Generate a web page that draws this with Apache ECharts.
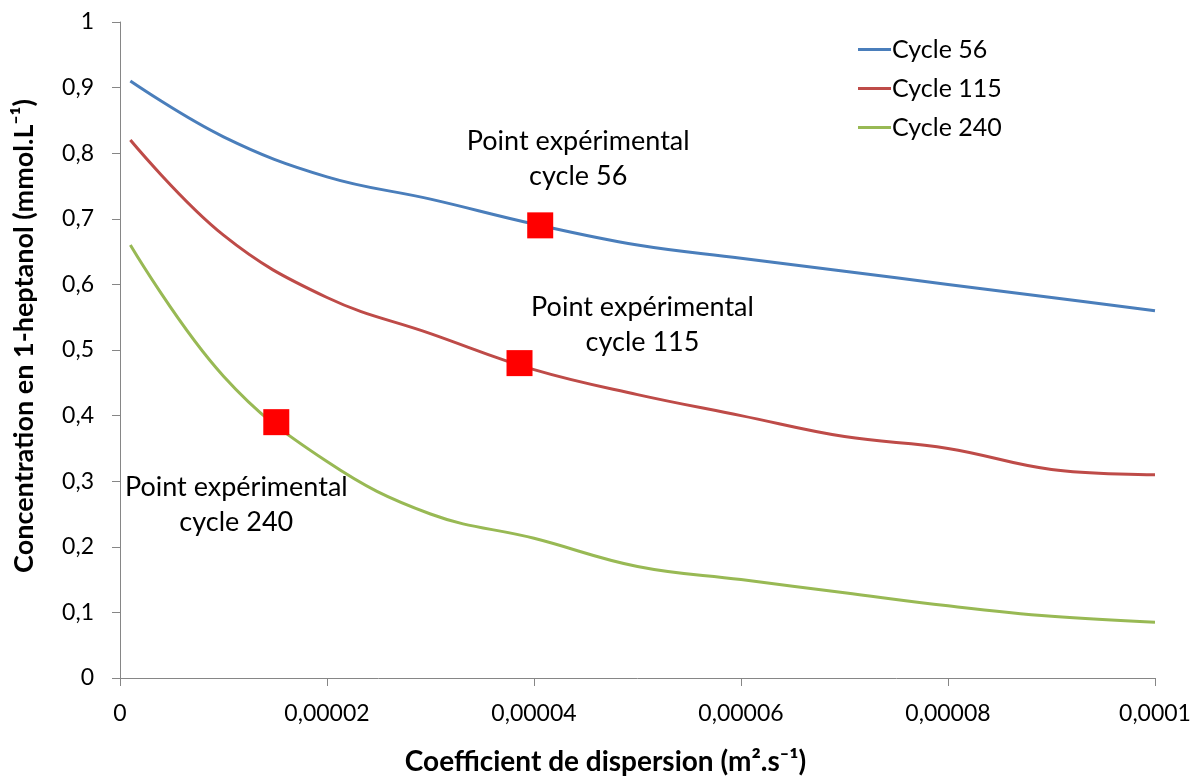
<!DOCTYPE html>
<html><head><meta charset="utf-8">
<script src="https://cdn.jsdelivr.net/npm/echarts@6/dist/echarts.min.js"></script>
<style>html,body{margin:0;padding:0;background:#fff}#c{width:1198px;height:777px}</style>
</head><body><div id="c"></div>
<script>
const xValues = [0.000001, 0.00001, 0.00002, 0.00003, 0.00004, 0.00005, 0.00006, 0.00007, 0.00008, 0.00009, 0.0001];
const cycle56 = [0.91, 0.825, 0.764, 0.73, 0.692, 0.66, 0.64, 0.62, 0.60, 0.58, 0.56];
const cycle115 = [0.82, 0.675, 0.58, 0.525, 0.47, 0.432, 0.40, 0.368, 0.35, 0.318, 0.31];
const cycle240 = [0.66, 0.46, 0.33, 0.25, 0.213, 0.17, 0.15, 0.13, 0.11, 0.094, 0.085];
const seriesNames = ['Cycle 56', 'Cycle 115', 'Cycle 240'];
const expX = [0.0000406, 0.0000386, 0.0000151];
const expY = [0.69, 0.48, 0.39];
const expLabels = ['Point expérimental\ncycle 56', 'Point expérimental\ncycle 115', 'Point expérimental\ncycle 240'];

const FONT = 'Lato';
const chart = echarts.init(document.getElementById('c'));
const pair = (xs, ys) => xs.map((x, i) => [x, ys[i]]);
const fmt = v => String(v).replace('.', ',');
const lineSeries = (name, ys, color) => ({
  name, type: 'line', data: pair(xValues, ys), smooth: 0.4, symbol: 'none',
  lineStyle: { color, width: 3 }, itemStyle: { color }
});
const labelOffsets = [[38, -67], [123, -38], [-40, 83]];
chart.setOption({
  animation: false,
  grid: { left: 120, right: 43, top: 22, bottom: 99, outerBoundsMode: 'none', containLabel: false },
  legend: {
    data: seriesNames, orient: 'vertical', left: 853, top: 32, itemGap: 14,
    itemWidth: 33, itemHeight: 3, icon: 'rect',
    textStyle: { fontFamily: FONT, fontSize: 25, color: '#000', padding: [0, 0, 0, -4] }
  },
  xAxis: {
    type: 'value', min: 0, max: 0.0001, interval: 0.00002,
    name: 'Coefficient de dispersion (m².s⁻¹)', nameLocation: 'middle', nameGap: 84,
    nameTextStyle: { fontFamily: FONT, fontSize: 28, fontWeight: 'bold', color: '#000', verticalAlign: 'middle', padding: [0, 64, 0, 0] },
    axisLine: { lineStyle: { color: '#868686' } },
    axisTick: { length: 8, lineStyle: { color: '#868686' } },
    splitLine: { show: false },
    axisLabel: { fontFamily: FONT, fontSize: 23, color: '#000', margin: 24, formatter: v => fmt(parseFloat(v.toFixed(6))) }
  },
  yAxis: {
    type: 'value', min: 0, max: 1, interval: 0.1,
    name: 'Concentration en 1-heptanol (mmol.L⁻¹)', nameLocation: 'middle', nameGap: 96,
    nameTextStyle: { fontFamily: FONT, fontSize: 27, fontWeight: 'bold', color: '#000', verticalAlign: 'middle', padding: [0, 0, 0, 28] },
    axisLine: { show: true, lineStyle: { color: '#868686' } },
    axisTick: { show: true, length: 8, lineStyle: { color: '#868686' } },
    splitLine: { show: false },
    axisLabel: { fontFamily: FONT, fontSize: 23, color: '#000', margin: 26, formatter: v => fmt(+v.toFixed(1)) }
  },
  series: [
    lineSeries(seriesNames[0], cycle56, '#4A7EBB'),
    lineSeries(seriesNames[1], cycle115, '#BE4B48'),
    lineSeries(seriesNames[2], cycle240, '#98B954'),
    {
      name: 'exp', type: 'scatter', symbol: 'rect', symbolSize: 26, z: 5,
      itemStyle: { color: '#FF0000', opacity: 1 },
      data: expX.map((x, i) => ({
        value: [x, expY[i]],
        label: {
          show: true, formatter: expLabels[i], offset: labelOffsets[i], position: 'inside',
          fontFamily: FONT, fontSize: 27, lineHeight: 35, color: '#000', align: 'center',
          textBorderWidth: 0
        }
      }))
    }
  ]
});
</script></body></html>
